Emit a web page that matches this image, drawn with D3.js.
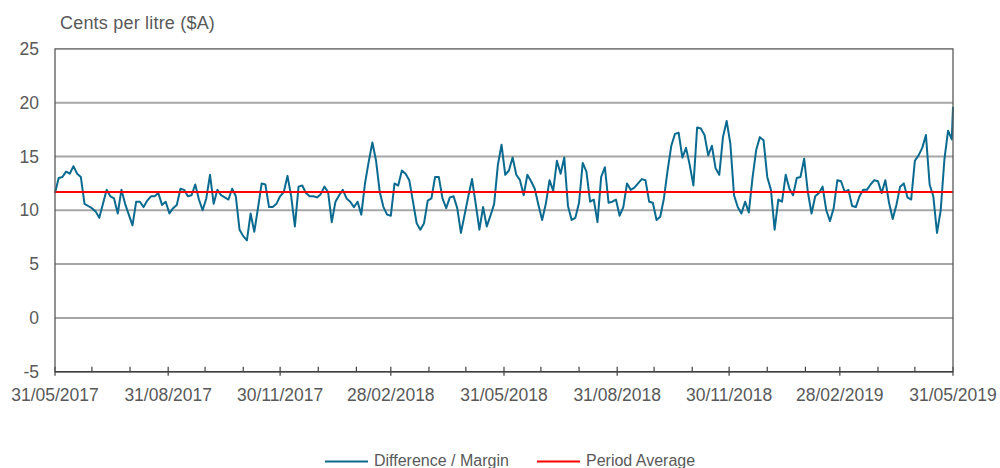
<!DOCTYPE html>
<html>
<head>
<meta charset="utf-8">
<script src="https://cdn.jsdelivr.net/npm/d3@7"></script>
<style>
  body { margin: 0; background: #fff; }
  text { font-family: "Liberation Sans", Arial, sans-serif; fill: #595959; }
</style>
</head>
<body>
<script>
let width = 1000;
let height = 468;

// margin values, one every 3 days from 31/05/2017 (last point on 31/05/2019)
const marginQ1 = [11.6,13.0,13.1,13.6,13.4,14.1,13.4,13.1,10.6,10.4,10.2,9.9,9.3,10.6,11.9,11.3,11.1,9.7,11.9,10.6,9.6,8.6,10.8,10.8,10.3,10.9,11.3,11.3,11.6,10.5,10.8];
const marginQ2 = [9.7,10.2,10.5,12.0,11.9,11.3,11.4,12.4,11.0,10.0,11.1,13.3,10.6,11.9,11.4,11.2,11.0,12.0,11.3,8.2,7.6,7.2,9.7,8.0,10.2,12.5,12.4,10.3,10.3,10.6,11.3];
const marginQ3 = [11.7,13.2,11.3,8.5,12.2,12.3,11.6,11.3,11.3,11.2,11.5,12.2,11.7,8.9,10.8,11.4,11.9,11.1,10.8,10.3,10.8,9.6,12.5,14.5,16.3,14.6,11.7,10.3,9.6,9.5];
const marginQ4 = [12.5,12.3,13.7,13.4,12.8,10.8,8.8,8.2,8.8,10.9,11.1,13.1,13.1,11.1,10.2,11.2,11.3,10.2,7.9,9.6,11.3,12.9,10.6,8.2,10.3,8.5,9.5,10.6,14.2,16.1];
const marginQ5 = [13.3,13.7,14.9,13.3,12.8,11.4,13.3,12.7,12.0,10.5,9.1,10.6,12.8,11.8,14.6,13.4,14.9,10.4,9.1,9.3,10.7,14.4,13.6,10.8,11.0,8.9,13.1,14.0,10.7,10.8,11.0];
const marginQ6 = [9.5,10.3,12.5,11.9,12.1,12.5,12.9,12.8,10.8,10.7,9.1,9.4,11.1,13.7,16.0,17.1,17.2,14.9,15.8,14.2,12.3,17.7,17.6,17.0,15.1,16.0,13.9,13.3,16.8,18.3];
const marginQ7 = [16.2,11.4,10.3,9.7,10.8,9.8,13.0,15.6,16.8,16.5,13.1,11.9,8.2,11.0,10.8,13.3,12.0,11.4,13.0,13.1,14.8,11.7,9.7,11.3,11.6,12.2,10.0,9.0,10.2,12.8,12.7];
const marginQ8 = [11.7,11.9,10.4,10.3,11.3,11.9,11.9,12.4,12.8,12.7,11.6,12.8,10.7,9.2,10.5,12.2,12.5,11.2,11.0,14.6,15.1,15.8,17.0,12.4,11.3,7.9,10.0,14.7,17.4,16.6,19.6];

const periodAverage = 11.7;
const yTicks = [-5, 0, 5, 10, 15, 20, 25];
const seriesNames = ['Difference / Margin', 'Period Average'];

const startDate = new Date(2017, 4, 31);
const endDate = new Date(2019, 4, 31);
const stepDays = 3;

const margins = [].concat(marginQ1, marginQ2, marginQ3, marginQ4, marginQ5, marginQ6, marginQ7, marginQ8);
const totalDays = d3.timeDay.count(startDate, endDate);
const data = margins.map(function(v, i) {
  return { date: d3.timeDay.offset(startDate, Math.min(i * stepDays, totalDays)), value: v };
});

const svg = d3.select('body')
  .append('svg')
  .attr('width', width)
  .attr('height', height);

let plot = { left: 55, right: 953, top: 48.9, bottom: 371.7 };

const x = d3.scaleTime()
  .domain([startDate, endDate])
  .range([plot.left, plot.right]);

const y = d3.scaleLinear()
  .domain([-5, 25])
  .range([plot.bottom, plot.top]);

// gridlines
svg.append('g').attr('id', 'grid')
  .selectAll('line').data(yTicks.filter(function(t) { return t > -5 && t < 25; }))
  .enter().append('line')
    .attr('x1', plot.left)
    .attr('x2', plot.right)
    .attr('y1', function(d) { return y(d); })
    .attr('y2', function(d) { return y(d); })
    .attr('stroke', '#a6a6a6')
    .attr('stroke-width', 2);

// y labels
svg.append('g').attr('id', 'ylabels')
  .selectAll('text').data(yTicks)
  .enter().append('text')
    .attr('x', 39)
    .attr('y', function(d) { return y(d) + 6; })
    .attr('text-anchor', 'end')
    .style('font-size', '17.5px')
    .text(function(d) { return d; });

svg.append('text')
  .attr('x', 60)
  .attr('y', 29)
  .style('font-size', '18px')
  .style('letter-spacing', '0.2px')
  .text('Cents per litre ($A)');

// month-end ticks, labelled every quarter
const monthEnds = d3.range(0, 25).map(function(m) { return new Date(2017, 5 + m, 0); });
const fmt = d3.timeFormat('%d/%m/%Y');

svg.append('g').attr('id', 'xticks')
  .selectAll('line').data(monthEnds)
  .enter().append('line')
    .attr('x1', function(d) { return x(d); })
    .attr('x2', function(d) { return x(d); })
    .attr('y1', plot.bottom - 5)
    .attr('y2', function(d, i) { return i % 3 === 0 ? plot.bottom + 4 : plot.bottom; })
    .attr('stroke', '#404040')
    .attr('stroke-width', 1.2);

svg.append('g').attr('id', 'xlabels')
  .selectAll('text').data(monthEnds.filter(function(d, i) { return i % 3 === 0; }))
  .enter().append('text')
    .attr('x', function(d) { return x(d); })
    .attr('y', 401)
    .attr('text-anchor', 'middle')
    .style('font-size', '17.5px')
    .text(function(d) { return fmt(d); });

// series
const line = d3.line()
  .x(function(d) { return x(d.date); })
  .y(function(d) { return y(d.value); });

svg.append('path').datum(data)
  .attr('d', line)
  .attr('fill', 'none')
  .attr('stroke', '#0b6a8f')
  .attr('stroke-width', 2)
  .attr('stroke-linejoin', 'round');

svg.append('line')
  .attr('x1', x(startDate))
  .attr('x2', x(endDate))
  .attr('y1', y(periodAverage))
  .attr('y2', y(periodAverage))
  .attr('stroke', '#ff0000')
  .attr('stroke-width', 2);

// frame
svg.append('rect')
  .attr('x', plot.left)
  .attr('y', plot.top)
  .attr('width', plot.right - plot.left)
  .attr('height', plot.bottom - plot.top)
  .attr('fill', 'none')
  .attr('stroke', '#595959')
  .attr('stroke-width', 1.3);

svg.append('line')
  .attr('x1', plot.left).attr('x2', plot.right)
  .attr('y1', plot.bottom).attr('y2', plot.bottom)
  .attr('stroke', '#404040')
  .attr('stroke-width', 1.5);

// legend
const legend = svg.append('g').attr('id', 'legend');
const legendItems = [
  { name: seriesNames[0], color: '#0b6a8f', x: 325 },
  { name: seriesNames[1], color: '#ff0000', x: 537 }
];
legendItems.forEach(function(item) {
  legend.append('line')
    .attr('x1', item.x).attr('x2', item.x + 43)
    .attr('y1', 461.5).attr('y2', 461.5)
    .attr('stroke', item.color)
    .attr('stroke-width', 2);
  legend.append('text')
    .attr('x', item.x + 49)
    .attr('y', 466)
    .style('font-size', '16px')
    .text(item.name);
});
</script>
</body>
</html>
